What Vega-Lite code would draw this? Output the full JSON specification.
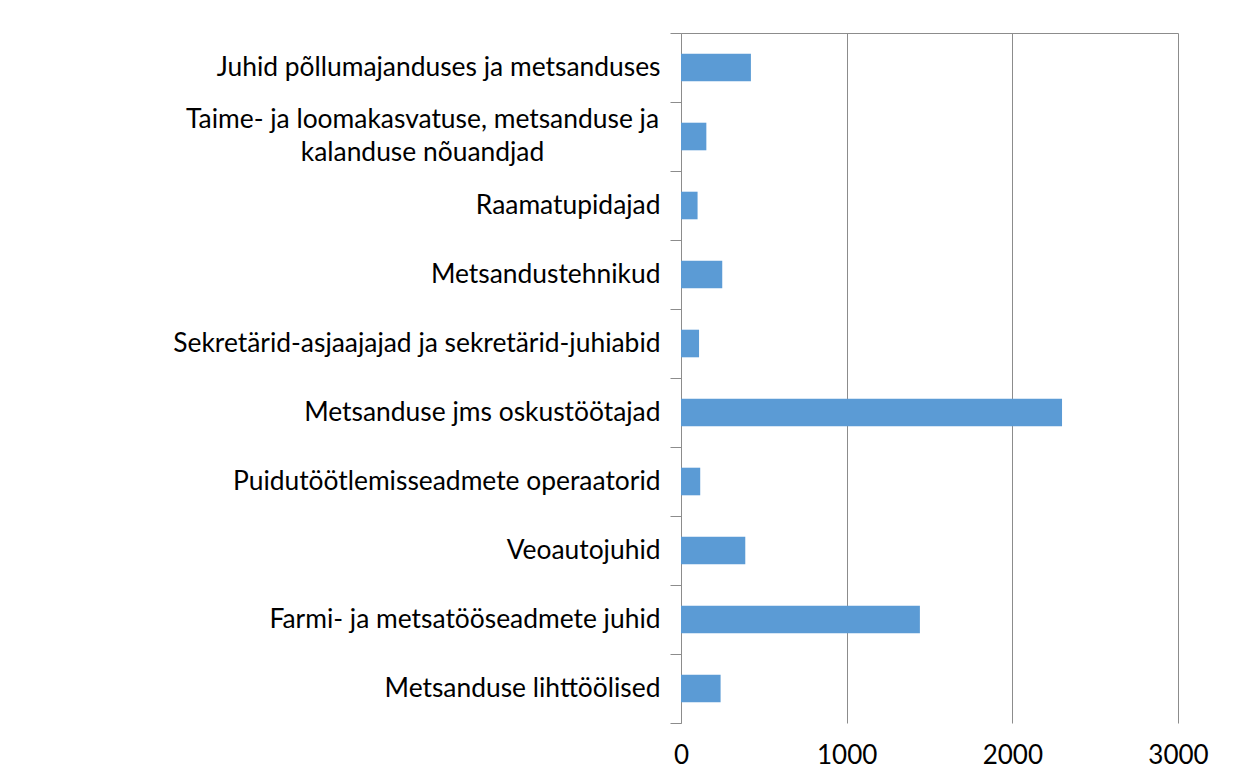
{
  "$schema": "https://vega.github.io/schema/vega-lite/v6.json",
  "width": 497,
  "height": 690,
  "padding": {"left": 5, "top": 20, "right": 0, "bottom": 0},
  "background": "white",
  "config": {"view": {"stroke": null}, "font": "Lato"},
  "data": {
    "values": [
      {"occupation": "Juhid põllumajanduses ja metsanduses", "count": 422},
      {"occupation": "Taime- ja loomakasvatuse, metsanduse ja kalanduse nõuandjad", "count": 153},
      {"occupation": "Raamatupidajad", "count": 100},
      {"occupation": "Metsandustehnikud", "count": 249},
      {"occupation": "Sekretärid-asjaajajad ja sekretärid-juhiabid", "count": 109},
      {"occupation": "Metsanduse jms oskustöötajad", "count": 2300},
      {"occupation": "Puidutöötlemisseadmete operaatorid", "count": 116},
      {"occupation": "Veoautojuhid", "count": 388},
      {"occupation": "Farmi- ja metsatööseadmete juhid", "count": 1442},
      {"occupation": "Metsanduse lihttöölised", "count": 239}
    ]
  },
  "layer": [
    {
      "mark": {"type": "bar", "color": "#5B9BD5", "height": {"band": 0.4}},
      "encoding": {
        "y": {
          "field": "occupation",
          "type": "nominal",
          "sort": null,
          "scale": {"paddingInner": 0, "paddingOuter": 0},
          "axis": {
            "title": null,
            "tickBand": "extent",
            "tickSize": 11,
            "tickColor": "#8c8c8c",
            "domainColor": "#8c8c8c",
            "labelFont": "Lato",
            "labelFontSize": 26.4,
            "labelColor": "#000000",
            "labelLimit": 700,
            "labelLineHeight": 33,
            "labelPadding": {"condition": {"test": "datum.value == 'Taime- ja loomakasvatuse, metsanduse ja kalanduse nõuandjad'", "value": 248}, "value": 10},
            "labelAlign": {"condition": {"test": "datum.value == 'Taime- ja loomakasvatuse, metsanduse ja kalanduse nõuandjad'", "value": "center"}, "value": "right"},
            "labelOffset": {"condition": {"test": "datum.value == 'Taime- ja loomakasvatuse, metsanduse ja kalanduse nõuandjad'", "value": -17}, "value": 0},
            "labelExpr": "datum.value == 'Taime- ja loomakasvatuse, metsanduse ja kalanduse nõuandjad' ? ['Taime- ja loomakasvatuse, metsanduse ja', 'kalanduse nõuandjad'] : datum.label",
            "minExtent": 676,
            "maxExtent": 676,
            "grid": false
          }
        },
        "x": {
          "field": "count",
          "type": "quantitative",
          "scale": {"domain": [0, 3000], "nice": false},
          "axis": {
            "title": null,
            "values": [0, 1000, 2000, 3000],
            "format": "d",
            "grid": true,
            "gridColor": "#8c8c8c",
            "domain": false,
            "ticks": false,
            "labelFlush": false,
            "labelFont": "Lato",
            "labelFontSize": 26,
            "labelPadding": 19,
            "labelColor": "#000000"
          }
        }
      }
    },
    {
      "mark": {"type": "bar", "opacity": 0, "height": {"band": 0.4}},
      "encoding": {
        "y": {"field": "occupation", "type": "nominal", "sort": null},
        "x": {
          "field": "count",
          "type": "quantitative",
          "axis": {
            "orient": "top",
            "title": null,
            "labels": false,
            "ticks": false,
            "grid": false,
            "domain": true,
            "domainColor": "#8c8c8c",
            "minExtent": 0,
            "maxExtent": 0
          }
        }
      }
    }
  ],
  "resolve": {"axis": {"x": "independent"}}
}
